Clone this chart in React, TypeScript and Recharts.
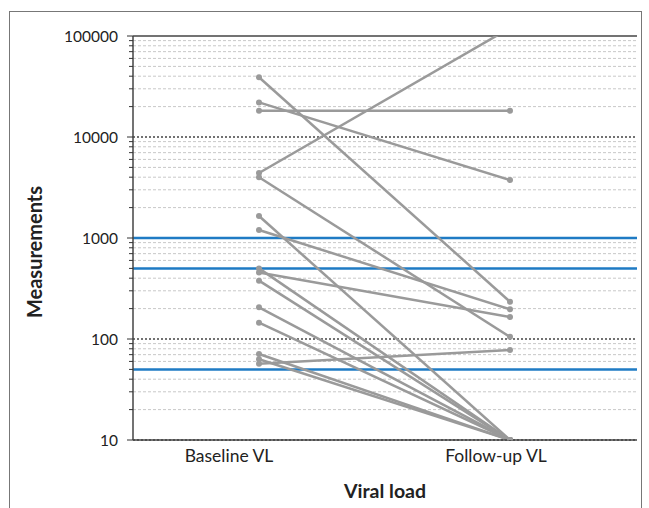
import { Label, Line, LineChart, ReferenceLine, XAxis, YAxis } from "recharts";

const categories = ["Baseline VL", "Follow-up VL"];
const baselineVL = [39000, 22000, 18200, 4400, 4000, 1650, 1200, 500, 455, 378, 206, 145, 71, 63, 57];
const followUpVL = [234, 3750, 18200, 120000, 105, 10, 197, 10, 165, 10, 10, 10, 10, 10, 78];
const majorTicks = [10, 100, 1000, 10000, 100000];
const minorTicks = [
  20, 30, 40, 50, 60, 70, 80, 90,
  200, 300, 400, 500, 600, 700, 800, 900,
  2000, 3000, 4000, 5000, 6000, 7000, 8000, 9000,
  20000, 30000, 40000, 50000, 60000, 70000, 80000, 90000
];
const thresholds = [50, 500, 1000];

const FONT = "Lato, 'Open Sans', sans-serif";
const GREY = "#9a9a9a";
// excel drew the category labels a little left of the points
const labelShift = [-30, -14];

const data = categories.map((name, i) => {
  const row: Record<string, string | number> = { name };
  baselineVL.forEach((v, k) => {
    row[`p${k}`] = i === 0 ? v : followUpVL[k];
  });
  return row;
});

const allTicks = [...majorTicks, ...minorTicks].sort((a, b) => a - b);

function YTick(props: any) {
  const { x, y, payload } = props;
  const major = majorTicks.includes(payload.value);
  const ax = x + 15;
  return (
    <g>
      <line x1={ax - (major ? 6 : 4)} x2={ax} y1={y} y2={y} stroke="#333" strokeWidth={1} />
      {major && (
        <text x={x} y={y} dy={5.5} textAnchor="end" fontSize={15.5} fill="#222" fontFamily={FONT}>
          {payload.value}
        </text>
      )}
    </g>
  );
}

function XTick(props: any) {
  const { x, y, payload, index } = props;
  return (
    <text x={x + (labelShift[index] ?? 0)} y={y} dy={18} textAnchor="middle" fontSize={17.5} fill="#222" fontFamily={FONT}>
      {payload.value}
    </text>
  );
}

export default function App() {
  return (
    <div style={{ position: "absolute", left: 0, top: 0, width: 649, height: 508, background: "#fff" }}>
      <div
        style={{
          position: "absolute",
          left: 9,
          top: 11,
          width: 631,
          height: 497,
          borderTop: "1.5px solid #777",
          borderLeft: "1.5px solid #777",
          borderRight: "1.5px solid #777"
        }}
      />
      <LineChart width={649} height={508} data={data} margin={{ top: 36, right: 12, bottom: 8, left: 0 }}>
        {minorTicks.map((v) => (
          <ReferenceLine key={`m${v}`} y={v} stroke="#c8c8c8" strokeDasharray="3 2" strokeWidth={1} />
        ))}
        {majorTicks.slice(0, 4).map((v) => (
          <ReferenceLine key={`M${v}`} y={v} stroke="#444" strokeDasharray="2 2" strokeWidth={1.5} />
        ))}
        {thresholds.map((v) => (
          <ReferenceLine key={`t${v}`} y={v} stroke="#1f7bc4" strokeWidth={2.5} />
        ))}
        <ReferenceLine y={100000} stroke="#444" strokeWidth={1.5} />
        <XAxis
          dataKey="name"
          padding={{ left: 126, right: 127 }}
          height={60}
          tickLine={false}
          tickSize={0}
          tickMargin={4}
          axisLine={{ stroke: "#444", strokeWidth: 1.5 }}
          tick={<XTick />}
        >
          <Label value="Viral load" position="insideBottom" offset={2} fill="#222" fontSize={19.5} fontWeight={700} fontFamily={FONT} />
        </XAxis>
        <YAxis
          scale="log"
          domain={[10, 100000]}
          allowDataOverflow
          ticks={allTicks}
          interval={0}
          width={133}
          tickSize={6}
          tickMargin={9}
          tickLine={false}
          tick={<YTick />}
          axisLine={{ stroke: "#444", strokeWidth: 1.5 }}
          label={{
            content: () => (
              <text x={42} y={252} transform="rotate(-90 42 252)" textAnchor="middle" fontSize={20} fontWeight={700} fill="#222" fontFamily={FONT}>
                Measurements
              </text>
            )
          }}
        />
        <YAxis
          yAxisId="frame"
          orientation="right"
          scale="log"
          domain={[10, 100000]}
          width={0}
          tick={false}
          tickLine={false}
          axisLine={{ stroke: "#444", strokeWidth: 1.5 }}
        />
        {baselineVL.map((_, k) => (
          <Line
            key={k}
            dataKey={`p${k}`}
            stroke={GREY}
            strokeWidth={2.5}
            dot={{ r: 3, fill: GREY, stroke: "none" }}
            isAnimationActive={false}
          />
        ))}
      </LineChart>
    </div>
  );
}
